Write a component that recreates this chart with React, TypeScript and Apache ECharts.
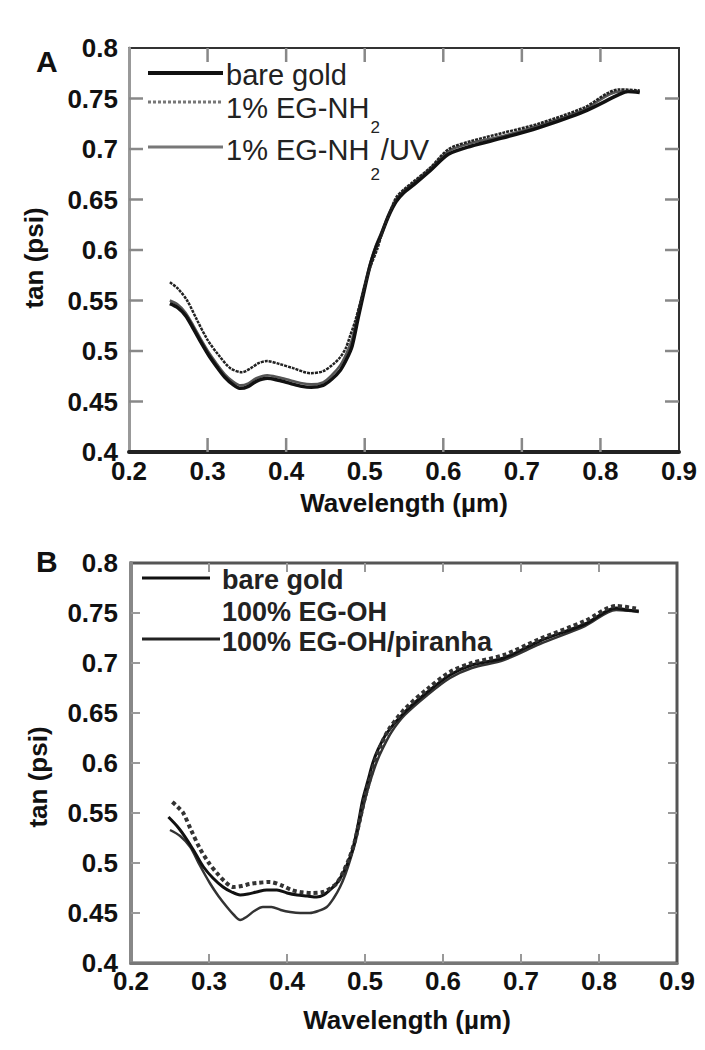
import React, { useEffect, useRef } from "react";
import * as echarts from "echarts";

// ---------- Data ----------
const xTickLabels = ["0.2", "0.3", "0.4", "0.5", "0.6", "0.7", "0.8", "0.9"];
const yTickLabels = ["0.4", "0.45", "0.5", "0.55", "0.6", "0.65", "0.7", "0.75", "0.8"];

// Panel A
const aBareGold: [number, number][] = [
  [0.252, 0.547], [0.262, 0.543], [0.272, 0.535], [0.282, 0.522], [0.292, 0.508], [0.302, 0.495],
  [0.312, 0.484], [0.322, 0.474], [0.332, 0.467], [0.342, 0.463], [0.352, 0.465], [0.362, 0.47],
  [0.376, 0.473], [0.39, 0.471], [0.405, 0.468], [0.42, 0.465], [0.432, 0.464], [0.447, 0.466],
  [0.458, 0.472], [0.469, 0.481], [0.477, 0.492], [0.484, 0.505], [0.492, 0.534], [0.5, 0.562],
  [0.507, 0.585], [0.514, 0.602], [0.521, 0.615], [0.53, 0.633], [0.54, 0.648], [0.55, 0.657],
  [0.563, 0.665], [0.584, 0.679], [0.607, 0.695], [0.636, 0.703], [0.676, 0.711], [0.721, 0.721],
  [0.779, 0.737], [0.824, 0.754], [0.835, 0.757], [0.85, 0.756],
];
const aEgNh2: [number, number][] = [
  [0.252, 0.568], [0.262, 0.562], [0.274, 0.55], [0.287, 0.53], [0.3, 0.511], [0.315, 0.495],
  [0.329, 0.483], [0.344, 0.479], [0.355, 0.483], [0.365, 0.488], [0.376, 0.49], [0.392, 0.487],
  [0.409, 0.483], [0.431, 0.478], [0.447, 0.48], [0.46, 0.487], [0.469, 0.494], [0.476, 0.503],
  [0.481, 0.514], [0.488, 0.53], [0.494, 0.547], [0.5, 0.565], [0.507, 0.583], [0.516, 0.601],
  [0.523, 0.619], [0.532, 0.637], [0.54, 0.652], [0.55, 0.66], [0.561, 0.667], [0.584, 0.682],
  [0.607, 0.7], [0.636, 0.708], [0.676, 0.716], [0.721, 0.725], [0.779, 0.741], [0.824, 0.759],
  [0.85, 0.758],
];
const aEgNh2Uv: [number, number][] = [
  [0.252, 0.55], [0.262, 0.546], [0.272, 0.538], [0.282, 0.525], [0.292, 0.511], [0.302, 0.498],
  [0.312, 0.487], [0.322, 0.477], [0.332, 0.47], [0.342, 0.466], [0.352, 0.468], [0.362, 0.473],
  [0.376, 0.476], [0.39, 0.474], [0.405, 0.471], [0.42, 0.468], [0.432, 0.467], [0.447, 0.469],
  [0.458, 0.476], [0.469, 0.486], [0.477, 0.498], [0.484, 0.512], [0.492, 0.54], [0.5, 0.566],
  [0.507, 0.587], [0.514, 0.604], [0.521, 0.617], [0.53, 0.635], [0.54, 0.65], [0.55, 0.659],
  [0.563, 0.667], [0.584, 0.681], [0.607, 0.698], [0.636, 0.706], [0.676, 0.713], [0.721, 0.723],
  [0.779, 0.739], [0.824, 0.757], [0.85, 0.757],
];

// Panel B
const bBareGold: [number, number][] = [
  [0.248, 0.546], [0.26, 0.536], [0.272, 0.523], [0.283, 0.509], [0.293, 0.496], [0.305, 0.485],
  [0.318, 0.476], [0.329, 0.471], [0.34, 0.468], [0.35, 0.469], [0.361, 0.471], [0.374, 0.473],
  [0.387, 0.473], [0.4, 0.47], [0.413, 0.468], [0.426, 0.467], [0.438, 0.466], [0.447, 0.468],
  [0.455, 0.473], [0.464, 0.48], [0.472, 0.49], [0.479, 0.502], [0.485, 0.516], [0.491, 0.538],
  [0.497, 0.563], [0.504, 0.583], [0.51, 0.6], [0.517, 0.614], [0.528, 0.63], [0.551, 0.651],
  [0.58, 0.671], [0.609, 0.688], [0.637, 0.698], [0.678, 0.705], [0.724, 0.722], [0.782, 0.739],
  [0.822, 0.755], [0.835, 0.753], [0.851, 0.752],
];
const bEgOh: [number, number][] = [
  [0.253, 0.561], [0.26, 0.556], [0.267, 0.55], [0.277, 0.533], [0.288, 0.515], [0.299, 0.501],
  [0.31, 0.49], [0.321, 0.481], [0.331, 0.476], [0.342, 0.477], [0.352, 0.479], [0.361, 0.48],
  [0.378, 0.481], [0.395, 0.477], [0.406, 0.473], [0.417, 0.471], [0.432, 0.47], [0.446, 0.471],
  [0.456, 0.475], [0.464, 0.48], [0.472, 0.491], [0.48, 0.505], [0.487, 0.522], [0.493, 0.542],
  [0.5, 0.566], [0.507, 0.586], [0.513, 0.602], [0.52, 0.617], [0.53, 0.633], [0.551, 0.654],
  [0.58, 0.674], [0.609, 0.691], [0.637, 0.7], [0.678, 0.708], [0.724, 0.724], [0.782, 0.742],
  [0.822, 0.757], [0.851, 0.754],
];
const bPiranha: [number, number][] = [
  [0.25, 0.533], [0.263, 0.527], [0.276, 0.516], [0.288, 0.498], [0.301, 0.48], [0.312, 0.467],
  [0.323, 0.456], [0.332, 0.448], [0.34, 0.443], [0.348, 0.446], [0.358, 0.452], [0.369, 0.456],
  [0.38, 0.456], [0.392, 0.453], [0.404, 0.451], [0.417, 0.45], [0.429, 0.45], [0.44, 0.452],
  [0.451, 0.456], [0.46, 0.465], [0.468, 0.476], [0.475, 0.489], [0.481, 0.503], [0.488, 0.522],
  [0.494, 0.543], [0.501, 0.566], [0.508, 0.585], [0.515, 0.601], [0.523, 0.615], [0.534, 0.631],
  [0.551, 0.648], [0.58, 0.668], [0.609, 0.685], [0.637, 0.695], [0.678, 0.703], [0.724, 0.719],
  [0.782, 0.737], [0.822, 0.753], [0.851, 0.751],
];

const FONT = '"Liberation Sans", Arial, Helvetica, sans-serif';

// plot-area boxes (layout, not data)
const BOX_A = { left: 129, top: 48, width: 550, height: 404 };
const BOX_B = { left: 131, top: 563, width: 546, height: 400 };

function measure(text: string, font: string): number {
  const ctx = document.createElement("canvas").getContext("2d");
  if (!ctx) return text.length * 14;
  ctx.font = font;
  return ctx.measureText(text).width;
}

const xFmt = (v: number) => xTickLabels[Math.round((v - 0.2) / 0.1)] ?? "";
const yFmt = (v: number) => yTickLabels[Math.round((v - 0.4) / 0.05)] ?? "";

function txt(text: string, x: number, y: number, size: number, weight: string, opts: any = {}) {
  return {
    type: "text",
    x,
    y,
    rotation: opts.rotation || 0,
    z: 100,
    style: {
      text,
      fontSize: size,
      fontWeight: weight,
      fontFamily: FONT,
      fill: opts.fill || "#111",
      align: opts.align || "left",
      textAlign: opts.align || "left",
      verticalAlign: "middle",
      textVerticalAlign: "middle",
    },
  };
}

function seg(x1: number, y1: number, x2: number, y2: number, color: string, width: number, dash?: number[]) {
  const style: any = { stroke: color, lineWidth: width };
  if (dash) style.lineDash = dash;
  return { type: "line", z: 100, shape: { x1, y1, x2, y2 }, style };
}

// inside tick marks drawn as custom series through the axes' own scales
function tickSeries(axisIdx: number, len: number, color: string, width: number) {
  const xs = xTickLabels.map((s) => parseFloat(s)).slice(1, -1);
  const ys = yTickLabels.map((s) => parseFloat(s)).slice(1, -1);
  const data: number[][] = [
    ...xs.map((v) => [v, 0.4, 0]),
    ...ys.map((v) => [0.2, v, 1]),
  ];
  return {
    type: "custom",
    xAxisIndex: axisIdx,
    yAxisIndex: axisIdx,
    silent: true,
    clip: false,
    z: 10,
    data,
    renderItem: (_params: any, api: any) => {
      const a = api.value(0);
      const b = api.value(1);
      const kind = api.value(2);
      const style = { stroke: color, lineWidth: width, fill: "none" };
      if (kind === 0) {
        const pb = api.coord([a, 0.4]);
        const pt = api.coord([a, 0.8]);
        return {
          type: "group",
          children: [
            { type: "line", shape: { x1: pb[0], y1: pb[1], x2: pb[0], y2: pb[1] - len }, style },
            { type: "line", shape: { x1: pt[0], y1: pt[1], x2: pt[0], y2: pt[1] + len }, style },
          ],
        };
      }
      const pl = api.coord([0.2, b]);
      const pr = api.coord([0.9, b]);
      return {
        type: "group",
        children: [
          { type: "line", shape: { x1: pl[0], y1: pl[1], x2: pl[0] + len, y2: pl[1] }, style },
          { type: "line", shape: { x1: pr[0], y1: pr[1], x2: pr[0] - len, y2: pr[1] }, style },
        ],
      };
    },
  };
}

export default function App() {
  const ref = useRef<HTMLDivElement>(null);

  useEffect(() => {
    if (!ref.current) return;
    const chart = echarts.init(ref.current, undefined, { renderer: "svg" });

    const legFontA = `normal 29px ${FONT}`;
    const wA = measure("1% EG-NH", legFontA);
    const wSub = measure("2", `normal 17px ${FONT}`);

    const xAxisBase = (grid: number, pos: "top" | "bottom", showLabel: boolean, line: any) => ({
      type: "value",
      gridIndex: grid,
      position: pos,
      min: 0.2,
      max: 0.9,
      interval: 0.1,
      axisLine: line,
      axisTick: { show: false },
      splitLine: { show: false },
      axisLabel: {
        show: showLabel,
        formatter: xFmt,
        fontSize: 26,
        fontWeight: "bold",
        fontFamily: FONT,
        color: "#111",
        margin: grid === 0 ? 6 : 5,
      },
    });
    const yAxisBase = (grid: number, pos: "left" | "right", showLabel: boolean, line: any) => ({
      type: "value",
      gridIndex: grid,
      position: pos,
      min: 0.4,
      max: 0.8,
      interval: 0.05,
      axisLine: line,
      axisTick: { show: false },
      splitLine: { show: false },
      axisLabel: {
        show: showLabel,
        formatter: yFmt,
        fontSize: 26,
        fontWeight: "bold",
        fontFamily: FONT,
        color: "#111",
        margin: grid === 0 ? 11 : 13,
      },
    });

    const option: any = {
      animation: false,
      backgroundColor: "#fff",
      grid: [
        { ...BOX_A, show: true, borderColor: "#333", borderWidth: 2, backgroundColor: "transparent" },
        { ...BOX_B, show: true, borderColor: "#555", borderWidth: 3, backgroundColor: "transparent" },
      ],
      xAxis: [
        xAxisBase(0, "bottom", true, { show: true, lineStyle: { color: "#222", width: 4 } }),
        xAxisBase(0, "top", false, { show: false }),
        xAxisBase(1, "bottom", true, { show: true, lineStyle: { color: "#777", width: 3 } }),
        xAxisBase(1, "top", false, { show: false }),
      ],
      yAxis: [
        yAxisBase(0, "left", true, { show: true, lineStyle: { color: "#999", width: 3 } }),
        yAxisBase(0, "right", false, { show: false }),
        yAxisBase(1, "left", true, { show: true, lineStyle: { color: "#888", width: 4 } }),
        yAxisBase(1, "right", false, { show: false }),
      ],
      series: [
        tickSeries(0, 14, "#888", 2.5),
        tickSeries(2, 9, "#999", 2),
        {
          name: "1% EG-NH2/UV", type: "line", xAxisIndex: 0, yAxisIndex: 0, data: aEgNh2Uv,
          symbol: "none", smooth: 0.3, lineStyle: { color: "#555", width: 2.5 },
        },
        {
          name: "bare gold A", type: "line", xAxisIndex: 0, yAxisIndex: 0, data: aBareGold,
          symbol: "none", smooth: 0.3, lineStyle: { color: "#111", width: 3.5 },
        },
        {
          name: "1% EG-NH2", type: "line", xAxisIndex: 0, yAxisIndex: 0, data: aEgNh2,
          symbol: "none", smooth: 0.3, lineStyle: { color: "#222", width: 2.5, type: [3, 1] },
        },
        {
          name: "100% EG-OH/piranha", type: "line", xAxisIndex: 2, yAxisIndex: 2, data: bPiranha,
          symbol: "none", smooth: 0.3, lineStyle: { color: "#333", width: 2.5 },
        },
        {
          name: "bare gold B", type: "line", xAxisIndex: 2, yAxisIndex: 2, data: bBareGold,
          symbol: "none", smooth: 0.3, lineStyle: { color: "#111", width: 3 },
        },
        {
          name: "100% EG-OH", type: "line", xAxisIndex: 2, yAxisIndex: 2, data: bEgOh,
          symbol: "none", smooth: 0.3, lineStyle: { color: "#333", width: 4, type: [4, 3], cap: "butt" },
        },
      ],
      graphic: [
        // panel letters
        txt("A", 36, 61, 30, "bold"),
        txt("B", 36, 561, 30, "bold"),
        // axis names
        txt("tan (psi)", 34, 258, 26, "bold", { rotation: Math.PI / 2, align: "center" }),
        txt("Wavelength (µm)", 404, 503, 26, "bold", { align: "center" }),
        txt("tan (psi)", 38, 777, 26, "bold", { rotation: Math.PI / 2, align: "center" }),
        txt("Wavelength (µm)", 407, 1020, 26, "bold", { align: "center" }),
        // legend A
        seg(148, 73, 223, 73, "#111", 4),
        seg(148, 102, 223, 102, "#777", 3, [3, 2]),
        seg(148, 147, 223, 147, "#777", 3),
        txt("bare gold", 226, 75, 29, "normal", { fill: "#222" }),
        txt("1% EG-NH", 226, 108, 29, "normal", { fill: "#222" }),
        txt("2", 226 + wA + 1, 127, 17, "normal", { fill: "#222" }),
        txt("1% EG-NH", 226, 150, 29, "normal", { fill: "#222" }),
        txt("2", 226 + wA + 1, 174, 17, "normal", { fill: "#222" }),
        txt("/UV", 226 + wA + wSub + 2, 150, 29, "normal", { fill: "#222" }),
        // legend B
        seg(142, 578, 210, 578, "#111", 3),
        seg(142, 639, 220, 639, "#222", 3),
        txt("bare gold", 222, 580, 27, "bold", { fill: "#222" }),
        txt("100% EG-OH", 222, 612, 27, "bold", { fill: "#222" }),
        txt("100% EG-OH/piranha", 222, 642, 27, "bold", { fill: "#222" }),
      ],
    };

    chart.setOption(option);
    return () => chart.dispose();
  }, []);

  return (
    <div
      ref={ref}
      style={{ position: "absolute", left: 0, top: 0, width: 705, height: 1050, background: "#fff" }}
    />
  );
}
